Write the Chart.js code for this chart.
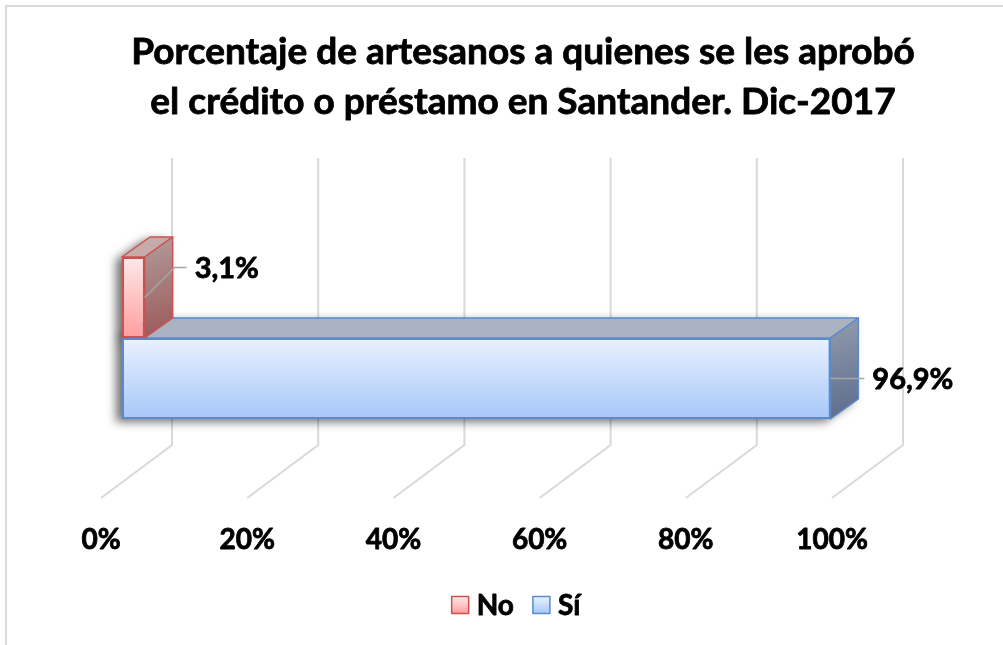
<!DOCTYPE html>
<html lang="es">
<head>
<meta charset="UTF-8">
<title>Crédito artesanos Santander</title>
<script src="https://cdn.jsdelivr.net/npm/chart.js"></script>
<style>
  html, body { margin: 0; padding: 0; background: #fff; }
  #wrap { width: 1003px; height: 645px; }
</style>
</head>
<body>
<div id="wrap"><canvas id="grafico" width="1003" height="645"></canvas></div>
<script>
// datos del gráfico
const categorias = ['Santander'];
const nombresSeries = ['No', 'Sí'];
const serieNo = [3.1];
const serieSi = [96.9];
const valoresEje = [0, 20, 40, 60, 80, 100];
const etiquetasEje = ['0%', '20%', '40%', '60%', '80%', '100%'];
const titulo = ['Porcentaje de artesanos a quienes se les aprobó', 'el crédito o préstamo en Santander. Dic-2017'];

// estilos por serie (colores y posición de la etiqueta)
const estilos = [
  { borde: '#cc5252', frente: ['#ffe9e9', '#ff9d9d'], tapa: '#c7aaaa', lado: ['#b29c9c', '#9b5757'], etq: { dx: 50, dy: -30 } },
  { borde: '#5b8bcc', frente: ['#e9f2ff', '#a7c7f9'], tapa: '#abb2c1', lado: ['#939cac', '#5b6b8d'], etq: { dx: 42, dy: 0 } }
];
const CAT_PCT = 0.45;
const DX = 28, DY = -20;          // profundidad de las barras
const FUENTE = 'Lato, "Open Sans", sans-serif';
const PESO = 'bold';

function rellenoFrente(c) {
  const chart = c.chart, area = chart.chartArea, est = estilos[c.datasetIndex];
  if (!area) return est.frente[1];
  const centro = chart.scales.y.getPixelForValue(c.dataIndex);
  const banda = (area.bottom - area.top) / categorias.length * CAT_PCT;
  const arriba = centro - banda / 2 + c.datasetIndex * banda / 2;
  const g = chart.ctx.createLinearGradient(0, arriba, 0, arriba + banda / 2);
  g.addColorStop(0, est.frente[0]);
  g.addColorStop(1, est.frente[1]);
  return g;
}

function caja(el) {
  const p = el.getProps(['x', 'y', 'base', 'height'], true);
  return { l: Math.min(p.x, p.base), r: Math.max(p.x, p.base), t: p.y - p.height / 2, b: p.y + p.height / 2, y: p.y };
}

function poligono(ctx, pts) {
  ctx.beginPath();
  ctx.moveTo(pts[0][0], pts[0][1]);
  for (let k = 1; k < pts.length; k++) ctx.lineTo(pts[k][0], pts[k][1]);
  ctx.closePath();
}

// texto negro un poco más grueso (Calibri Bold es más pesada que Lato Bold)
function texto(ctx, t, x, y) {
  ctx.fillStyle = '#000';
  ctx.strokeStyle = '#000';
  ctx.lineWidth = 0.8;
  ctx.lineJoin = 'round';
  ctx.fillText(t, x, y);
  ctx.strokeText(t, x, y);
}

function formato(v) {
  return v.toFixed(1).replace('.', ',') + '%';
}

const escena3d = {
  id: 'escena3d',
  beforeDraw(chart) {
    const ctx = chart.ctx;
    ctx.save();
    ctx.fillStyle = '#fff';
    ctx.fillRect(0, 0, chart.width, chart.height);
    // marco
    ctx.strokeStyle = '#d9d9d9';
    ctx.lineWidth = 2;
    ctx.beginPath();
    ctx.moveTo(6, chart.height);
    ctx.lineTo(6, 6);
    ctx.lineTo(chart.width, 6);
    ctx.stroke();
    // título
    ctx.font = PESO + ' 37px ' + FUENTE;
    ctx.textAlign = 'center';
    ctx.textBaseline = 'alphabetic';
    titulo.forEach((t, i) => texto(ctx, t, 523, 64 + i * 50));
    ctx.restore();
  },
  beforeDatasetsDraw(chart) {
    const { ctx, chartArea: a, scales: { x } } = chart;
    ctx.save();
    // líneas de cuadrícula: pared del fondo y piso
    ctx.strokeStyle = '#d9d9d9';
    ctx.lineWidth = 2;
    valoresEje.forEach(v => {
      const px = x.getPixelForValue(v);
      ctx.beginPath();
      ctx.moveTo(px + 50, a.top);
      ctx.lineTo(px + 50, a.bottom - 73);
      ctx.lineTo(px - 21, a.bottom - 20);
      ctx.stroke();
    });

    const barras = [];
    chart.data.datasets.forEach((ds, i) => {
      chart.getDatasetMeta(i).data.forEach(el => barras.push({ i, b: caja(el) }));
    });

    // sombras
    ctx.save();
    ctx.shadowColor = 'rgba(0,0,0,0.55)';
    ctx.shadowBlur = 10;
    ctx.shadowOffsetX = -6;
    ctx.shadowOffsetY = 3;
    ctx.fillStyle = '#fff';
    barras.slice().reverse().forEach(({ b }) => {
      poligono(ctx, [[b.l, b.t], [b.l + DX, b.t + DY], [b.r + DX, b.t + DY], [b.r + DX, b.b + DY], [b.r, b.b], [b.l, b.b]]);
      ctx.fill();
    });
    ctx.restore();

    // caras superior y lateral
    ctx.lineWidth = 1.5;
    ctx.lineJoin = 'round';
    barras.slice().reverse().forEach(({ i, b }) => {
      const est = estilos[i];
      ctx.strokeStyle = est.borde;
      poligono(ctx, [[b.l, b.t], [b.r, b.t], [b.r + DX, b.t + DY], [b.l + DX, b.t + DY]]);
      ctx.fillStyle = est.tapa;
      ctx.fill();
      ctx.stroke();
      const g = ctx.createLinearGradient(b.r, b.t + DY, b.r + DX, b.b);
      g.addColorStop(0, est.lado[0]);
      g.addColorStop(1, est.lado[1]);
      poligono(ctx, [[b.r, b.t], [b.r + DX, b.t + DY], [b.r + DX, b.b + DY], [b.r, b.b]]);
      ctx.fillStyle = g;
      ctx.fill();
      ctx.stroke();
    });
    ctx.restore();
  },
  afterDatasetsDraw(chart) {
    const ctx = chart.ctx;
    ctx.save();
    ctx.font = PESO + ' 29px ' + FUENTE;
    ctx.textAlign = 'left';
    ctx.textBaseline = 'middle';
    chart.data.datasets.forEach((ds, i) => {
      const e = estilos[i].etq;
      chart.getDatasetMeta(i).data.forEach((el, j) => {
        const b = caja(el);
        const ty = b.y + e.dy;
        ctx.strokeStyle = '#a6a6a6';
        ctx.lineWidth = 1.5;
        ctx.beginPath();
        ctx.moveTo(b.r, b.y);
        ctx.lineTo(b.r + e.dx - 20, ty);
        ctx.lineTo(b.r + e.dx - 8, ty);
        ctx.stroke();
        texto(ctx, formato(ds.data[j]), b.r + e.dx, ty + 1);
      });
    });
    ctx.restore();
  },
  afterDraw(chart) {
    const { ctx, chartArea: a, scales: { x } } = chart;
    ctx.save();
    // etiquetas del eje
    ctx.font = PESO + ' 28px ' + FUENTE;
    ctx.textAlign = 'center';
    ctx.textBaseline = 'middle';
    valoresEje.forEach((v, k) => texto(ctx, etiquetasEje[k], x.getPixelForValue(v) - 21, a.bottom + 22));
    // leyenda
    ctx.font = PESO + ' 28px ' + FUENTE;
    ctx.textAlign = 'left';
    const cuadro = 17, hueco = 8, sep = 19;
    const anchos = nombresSeries.map(n => ctx.measureText(n).width);
    const total = anchos.reduce((s, w) => s + cuadro + hueco + w, 0) + sep * (nombresSeries.length - 1);
    let lx = 516 - total / 2;
    const ly = 605;
    nombresSeries.forEach((n, i) => {
      const est = estilos[i];
      const g = ctx.createLinearGradient(0, ly - cuadro / 2, 0, ly + cuadro / 2);
      g.addColorStop(0, est.frente[0]);
      g.addColorStop(1, est.frente[1]);
      ctx.fillStyle = g;
      ctx.fillRect(lx, ly - cuadro / 2, cuadro, cuadro);
      ctx.strokeStyle = est.borde;
      ctx.lineWidth = 1.5;
      ctx.strokeRect(lx, ly - cuadro / 2, cuadro, cuadro);
      texto(ctx, n, lx + cuadro + hueco, ly + 1);
      lx += cuadro + hueco + anchos[i] + sep;
    });
    ctx.restore();
  }
};

const grafico = new Chart(document.getElementById('grafico'), {
  type: 'bar',
  data: {
    labels: categorias,
    datasets: [
      { label: nombresSeries[0], data: serieNo },
      { label: nombresSeries[1], data: serieSi }
    ].map((d, i) => Object.assign(d, {
      backgroundColor: rellenoFrente,
      borderColor: estilos[i].borde,
      borderWidth: 2,
      borderSkipped: false,
      categoryPercentage: CAT_PCT,
      barPercentage: 1
    }))
  },
  options: {
    indexAxis: 'y',
    responsive: false,
    animation: false,
    layout: { padding: { left: 122, right: 150, top: 158, bottom: 127 } },
    scales: {
      x: { display: false, min: 0, max: 100 },
      y: { display: false }
    },
    plugins: {
      legend: { display: false },
      title: { display: false },
      tooltip: { enabled: false }
    }
  },
  plugins: [escena3d]
});
</script>
</body>
</html>
